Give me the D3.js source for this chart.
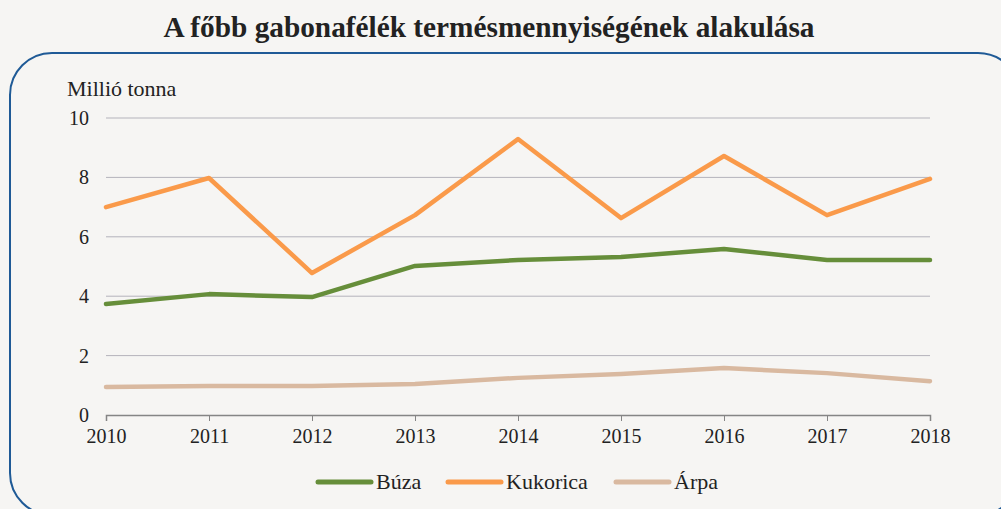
<!DOCTYPE html>
<html>
<head>
<meta charset="utf-8">
<script src="https://cdn.jsdelivr.net/npm/d3@7"></script>
<style>
  html, body { margin: 0; padding: 0; background: #f6f5f3; }
  svg { display: block; font-family: "Liberation Serif", serif; }
</style>
</head>
<body>
<div id="chart"></div>
<script>
// Chart data
const years = [2010, 2011, 2012, 2013, 2014, 2015, 2016, 2017, 2018];
const buza = [3.74, 4.07, 3.97, 5.02, 5.22, 5.32, 5.59, 5.22, 5.22];
const kukorica = [7.0, 7.98, 4.78, 6.73, 9.29, 6.63, 8.72, 6.73, 7.95];
const arpa = [0.94, 0.98, 0.98, 1.04, 1.25, 1.38, 1.58, 1.41, 1.14];
const yTicks = [0, 2, 4, 6, 8, 10];

const seriesNames = ["Búza", "Kukorica", "Árpa"];
const seriesColors = ["#668e3a", "#fa9a4a", "#d9b9a0"];
const series = [buza, kukorica, arpa];

const W = 1001, H = 509;
const margin = { top: 118, right: 71, bottom: 94, left: 106 };
const width = W - margin.left - margin.right;
const height = H - margin.top - margin.bottom;

const svg = d3.select("#chart").append("svg")
    .attr("width", W)
    .attr("height", H);

// Background
svg.append("rect").attr("width", W).attr("height", H).attr("fill", "#f6f5f3");

// Rounded frame
svg.append("rect")
    .attr("x", 10).attr("y", 53)
    .attr("width", 1010).attr("height", 462)
    .attr("rx", 42).attr("ry", 42)
    .attr("fill", "none")
    .attr("stroke", "#1f5a96")
    .attr("stroke-width", 2);

// Title
svg.append("text")
    .attr("x", 489).attr("y", 37)
    .attr("text-anchor", "middle")
    .style("font-size", "29.3px")
    .style("font-weight", "bold")
    .attr("fill", "#222")
    .text("A főbb gabonafélék termésmennyiségének alakulása");

const g = svg.append("g").attr("transform", `translate(${margin.left},${margin.top})`);

const x = d3.scaleLinear().domain([2010, 2018]).range([0, width]);
const y = d3.scaleLinear().domain([0, 10]).range([height, 0]);

// Gridlines
g.selectAll(".grid")
    .data(yTicks.filter(d => d > 0))
    .enter().append("line")
    .attr("x1", 0).attr("x2", width)
    .attr("y1", d => y(d)).attr("y2", d => y(d))
    .attr("stroke", "#b4b3bb")
    .attr("stroke-width", 1);

// Y axis labels
const yAxis = g.append("g")
    .call(d3.axisLeft(y).tickValues(yTicks).tickSize(0).tickPadding(17).tickFormat(d3.format("d")));
yAxis.select(".domain").remove();
yAxis.selectAll("text").style("font-size", "20px").style("font-family", "Liberation Serif, serif").attr("fill", "#222");

// X axis
const xAxis = g.append("g")
    .attr("transform", `translate(0,${height})`)
    .call(d3.axisBottom(x).tickValues(years).tickSize(6).tickPadding(8).tickFormat(d3.format("d")));
xAxis.select(".domain").attr("stroke", "#858585").attr("stroke-width", 1.5);
xAxis.selectAll(".tick line").attr("stroke", "#858585");
xAxis.selectAll("text").style("font-size", "20px").style("font-family", "Liberation Serif, serif").attr("fill", "#222");

// Unit label
svg.append("text")
    .attr("x", 67).attr("y", 96)
    .style("font-size", "22px")
    .attr("fill", "#222")
    .text("Millió tonna");

// Lines
const line = d3.line()
    .x((d, i) => x(years[i]))
    .y(d => y(d));

series.forEach(function(s, k) {
    g.append("path")
        .datum(s)
        .attr("fill", "none")
        .attr("stroke", seriesColors[k])
        .attr("stroke-width", 4.5)
        .attr("stroke-linejoin", "round")
        .attr("stroke-linecap", "round")
        .attr("d", line);
});

// Legend
const legendX = [318, 448, 616];
const legend = svg.append("g").attr("transform", "translate(0,482)");
seriesNames.forEach(function(name, k) {
    legend.append("line")
        .attr("x1", legendX[k]).attr("x2", legendX[k] + 53)
        .attr("y1", 0).attr("y2", 0)
        .attr("stroke", seriesColors[k])
        .attr("stroke-width", 5)
        .attr("stroke-linecap", "round");
    legend.append("text")
        .attr("x", legendX[k] + 58).attr("y", 7)
        .style("font-size", "22px")
        .attr("fill", "#222")
        .text(name);
});
</script>
</body>
</html>
